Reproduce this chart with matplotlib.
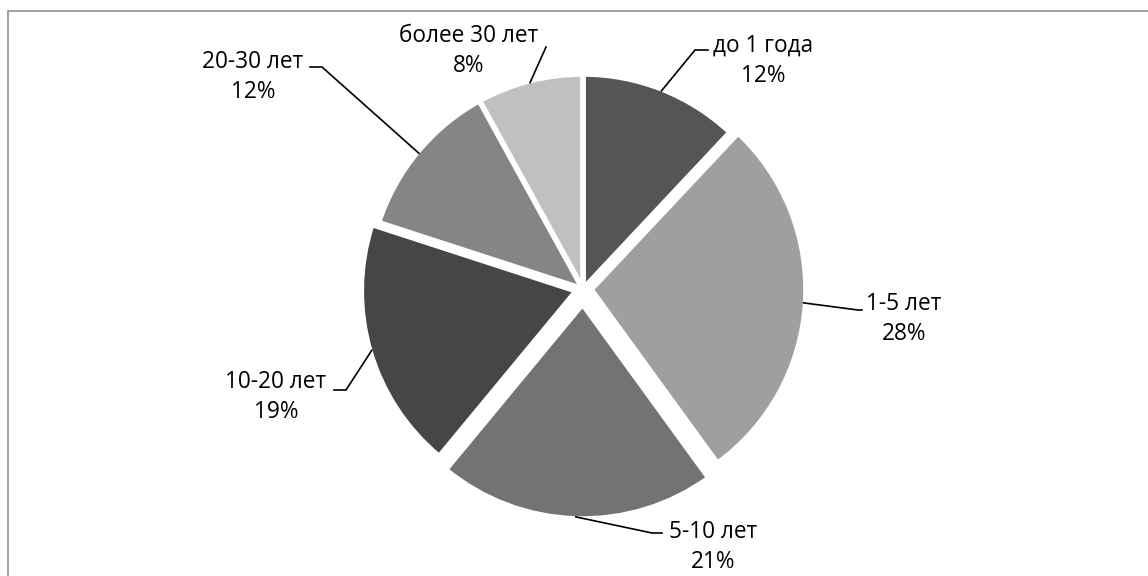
import matplotlib.pyplot as plt
import numpy as np
from matplotlib.patches import Rectangle

W, H = 1148, 576

categories = ["до 1 года", "1-5 лет", "5-10 лет", "10-20 лет", "20-30 лет", "более 30 лет"]
shares = [12, 28, 21, 19, 12, 8]
colors = ["#555555", "#9f9f9f", "#737373", "#464646", "#858585", "#c0c0c0"]
# pie explode offsets are in data units (pixels here)
explode = [0, 8, 15, 7, 0, 0]

# label layout in pixel coords (y from top): text centre, elbow, end of leader
label_pos = [(763, 61), (904, 319), (713, 547), (276, 397), (253, 77), (469, 51)]
elbows = [(695, 50), (858, 310), (652, 533), (346, 390), (322, 67), (546, 47)]
ends = [(708, 50), (862, 310), (662, 533), (334, 390), (310, 67), (546, 47)]

plt.rcParams['font.family'] = ['Open Sans', 'DejaVu Sans']

fig = plt.figure(figsize=(W / 100, H / 100), dpi=100)
ax = fig.add_axes([0, 0, 1, 1])

wedges, _ = ax.pie(shares, colors=colors, explode=explode, startangle=90,
                   counterclock=False, center=(583, H - 289), radius=215,
                   wedgeprops=dict(edgecolor="white", linewidth=4.0))

ax.set_xlim(0, W)
ax.set_ylim(0, H)
ax.set_aspect("equal")
ax.axis("off")


def flip(p):
    return p[0], H - p[1]


for w, name, val, tp, el, en in zip(wedges, categories, shares, label_pos, elbows, ends):
    mid = np.deg2rad((w.theta1 + w.theta2) / 2)
    cx, cy = w.center
    rr = w.r - 2
    start = (cx + rr * np.cos(mid), cy + rr * np.sin(mid))
    e1, e2 = flip(el), flip(en)
    ax.plot([start[0], e1[0], e2[0]], [start[1], e1[1], e2[1]], color="black", lw=1.2,
            solid_joinstyle="miter", zorder=5)
    tx, ty = flip(tp)
    ax.text(tx, ty, f"{name}\n{val}%", ha="center", va="center", fontsize=16.3,
            linespacing=1.38, color="black")

# chart frame (right and bottom edges fall outside the picture)
ax.add_patch(Rectangle((7.5, -20), 1300, H - 10.5 + 20, fill=False,
                       edgecolor="#999999", linewidth=1.3))

fig.savefig("out.png", dpi=100)
